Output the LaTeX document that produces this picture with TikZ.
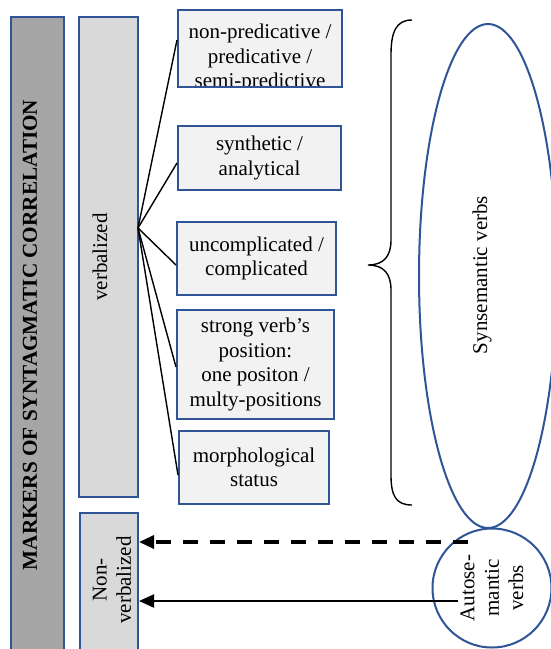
\documentclass[tikz,border=0pt]{standalone}
\usepackage{fontspec}
\setmainfont{Liberation Serif}
\usepackage{tikz}
\usetikzlibrary{shapes.geometric,arrows.meta}
\definecolor{edge}{HTML}{2F5597}
\definecolor{darkbar}{HTML}{A6A6A6}
\definecolor{lightbar}{HTML}{D9D9D9}
\definecolor{boxfill}{HTML}{F2F2F2}

\begin{document}
\begin{tikzpicture}[x=1pt,y=-1pt,
    every node/.style={font=\fontsize{21pt}{24.4pt}\selectfont},
    bar/.style={draw=edge,line width=2pt,inner sep=0pt},
    box/.style={draw=edge,line width=2pt,fill=boxfill,align=center,inner sep=0pt},
    tip/.style={-{Triangle[length=15pt,width=13pt]}}]
    \path[use as bounding box,clip] (0,0) rectangle (551,649);
    % left column
    \node[bar,fill=darkbar,minimum width=53pt,minimum height=643pt] (mk) at (37.5,338.5) {};
    \node[rotate=90,font=\fontsize{21.2pt}{24pt}\selectfont\bfseries] (mkt) at (30,335) {MARKERS OF SYNTAGMATIC CORRELATION};
    \node[bar,fill=lightbar,minimum width=59pt,minimum height=480pt] (vb) at (108.5,257) {};
    \node[rotate=90] (vbt) at (100,257) {verbalized};
    \node[bar,fill=lightbar,minimum width=58pt,minimum height=147pt] (nv) at (109,586.5) {};
    \node[rotate=90,align=center] (nvt) at (112,580) {Non-\\verbalized};
    % markers
    \node[box,minimum width=164pt,minimum height=77pt,
        path picture={\node[align=center] at ([yshift=-9.6pt]path picture bounding box.center)
            {non-predicative /\\predicative /\\semi-predictive};}] (b1) at (260,48.5) {};
    \node[box,minimum width=163pt,minimum height=64pt] (b2) at (259.5,158) {synthetic /\\analytical};
    \node[box,minimum width=159pt,minimum height=73pt] (b3) at (256.5,258.5) {uncomplicated /\\complicated};
    \node[box,minimum width=157pt,minimum height=109pt] (b4) at (255.5,364.5) {strong verb’s\\position:\\one positon /\\multy-positions};
    \node[box,minimum width=150pt,minimum height=73pt] (b5) at (254,467.5) {morphological\\status};
    \coordinate (hub) at (138,228);
    \foreach \b/\y in {b1/40,b2/163,b3/265,b4/367,b5/475}
        \draw[line width=1.4pt] (hub) -- (\b.west |- 0,\y);
    % brace
    \draw[line width=1.4pt] (412,20) .. controls (396,20) and (391,32) .. (391,55) -- (391,240)
        .. controls (391,256) and (384,265) .. (368,265)
        .. controls (384,265) and (391,274) .. (391,290) -- (391,475)
        .. controls (391,496) and (396,505) .. (412,505);
    % verbs
    \node[ellipse,draw=edge,line width=2pt,rotate=90,minimum width=504pt,minimum height=138pt,inner sep=0pt] (syn) at (488,276) {};
    \node[rotate=90] (synt) at (482,275) {Synsemantic verbs};
    \node[circle,draw=edge,line width=2pt,fill=white,minimum size=119pt,inner sep=0pt,rotate=90,align=center] (aut) at (492,588) {Autose-\\mantic\\verbs};
    \coordinate (d0) at (468,542);
    \coordinate (s0) at (458,601);
    \draw[tip,line width=3.2pt,dash pattern=on 15pt off 12pt] (d0) -- (nv.east |- d0);
    \draw[tip,line width=2pt] (s0) -- (nv.east |- s0);
\end{tikzpicture}
\end{document}
